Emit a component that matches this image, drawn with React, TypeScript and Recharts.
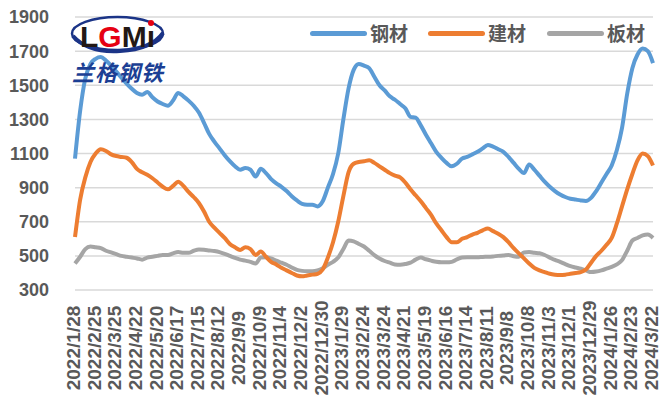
import { LineChart, Line, XAxis, YAxis, CartesianGrid } from 'recharts';

const tickLabels = [
  '2022/1/28', '2022/2/25', '2022/3/25', '2022/4/22', '2022/5/20', '2022/6/17', '2022/7/15',
  '2022/8/12', '2022/9/9', '2022/10/9', '2022/11/4', '2022/12/2', '2022/12/30', '2023/1/29',
  '2023/2/24', '2023/3/24', '2023/4/21', '2023/5/19', '2023/6/16', '2023/7/14', '2023/8/11',
  '2023/9/8', '2023/10/8', '2023/11/3', '2023/12/1', '2023/12/29', '2024/1/26', '2024/2/23',
  '2024/3/22',
];

// 钢材
const steel = [
  1070, 1350, 1540, 1625, 1655, 1665, 1645, 1615, 1580, 1545,
  1510, 1480, 1455, 1445, 1460, 1430, 1405, 1390, 1380, 1410,
  1455, 1435, 1410, 1380, 1340, 1280, 1215, 1170, 1130, 1090,
  1055, 1025, 1005, 1015, 1005, 965, 1010, 985, 950, 925,
  905, 880, 850, 825, 805, 800, 800, 790, 820, 900,
  980, 1100, 1300, 1480, 1590, 1625, 1615, 1600, 1550, 1500,
  1470, 1435, 1415, 1390, 1365, 1315, 1310, 1265, 1210, 1160,
  1110, 1075, 1045, 1025, 1040, 1070, 1080, 1095, 1110, 1130,
  1150, 1140, 1125, 1110, 1080, 1045, 1010, 985, 1035, 1005,
  970, 935, 905, 880, 860, 845, 835, 830, 825, 822,
  840, 880, 930, 980, 1030, 1120, 1250, 1450, 1600, 1680,
  1715, 1700, 1630,
];

// 建材
const rebar = [
  610, 830, 960, 1050, 1100, 1125, 1115, 1095, 1085, 1080,
  1075, 1050, 1010, 990, 975, 955, 930, 905, 890, 910,
  935, 910, 875, 845, 810, 760, 700, 665, 635, 605,
  570, 550, 535, 550, 540, 505, 525, 495, 465, 450,
  430, 415, 400, 385, 380, 385, 390, 395, 420, 490,
  580, 700, 850, 990, 1040, 1050, 1055, 1060, 1045, 1025,
  1005, 985, 970, 960, 930, 890, 855, 820, 780, 740,
  690, 650, 610, 580, 580, 600, 610, 625, 635, 650,
  660, 645, 630, 610, 580, 545, 515, 485, 455, 430,
  415, 405, 395, 390, 388, 390, 395, 400, 405, 420,
  460, 500, 530, 565, 605, 690, 790, 890, 980, 1060,
  1100, 1085, 1030,
];

// 板材
const plate = [
  455, 495, 540, 555, 550, 545, 530, 520, 510, 500,
  495, 490, 485, 478, 490, 495, 500, 505, 505, 515,
  522, 518, 518, 530, 538, 536, 532, 528, 522, 512,
  500, 488, 478, 472, 465, 455, 490, 492, 485, 472,
  460, 448, 432, 418, 412, 410, 410, 415, 428, 448,
  465, 490, 540, 590, 585, 570, 555, 530, 505, 485,
  470, 460, 450, 448, 452, 460, 478, 490, 480, 472,
  465, 462, 462, 465, 480, 490, 492, 492, 492, 494,
  495, 497, 500, 502, 505, 498, 495, 520, 522, 518,
  515, 505, 490, 476, 465, 452, 440, 432, 425, 415,
  405, 408, 415, 425, 435, 450, 475, 530, 590, 605,
  620, 625, 605,
];

const yTicks = [300, 500, 700, 900, 1100, 1300, 1500, 1700, 1900];

const data = steel.map((v, i) => ({ week: i, steel: v, rebar: rebar[i], plate: plate[i] }));

const BAND = 578 / steel.length;

const XTick = ({ x, y, payload }: any) => {
  const label = tickLabels[payload.value / 4];
  const cx = x - 1.5;
  const cy = y + 58;
  return (
    <text
      x={cx}
      y={cy}
      transform={`rotate(-90 ${cx} ${cy})`}
      textAnchor="middle"
      dy="0.34em"
      fill="#595959"
      fontSize={19}
      fontWeight="bold"
      fontFamily="'Liberation Sans', Arial, sans-serif"
    >
      {label}
    </text>
  );
};

const MinorTick = ({ x, y, index }: any) => (
  <g>
    <line x1={x - BAND / 2} x2={x - BAND / 2} y1={y} y2={y + 5} stroke="#d9d9d9" strokeWidth={1} />
    {index === steel.length - 1 && (
      <line x1={x + BAND / 2} x2={x + BAND / 2} y1={y} y2={y + 5} stroke="#d9d9d9" strokeWidth={1} />
    )}
  </g>
);

const legendItems = [
  { name: '钢材', color: '#5B9BD5', left: 310 },
  { name: '建材', color: '#ED7D31', left: 428 },
  { name: '板材', color: '#A5A5A5', left: 547 },
];

const App = () => {
  return (
    <div style={{ position: 'absolute', left: 0, top: 0, width: 661, height: 402, background: '#fff' }}>
      <LineChart width={661} height={402} data={data} margin={{ top: 17, right: 8, left: 0, bottom: 0 }}>
        <CartesianGrid vertical={false} stroke="#d9d9d9" strokeWidth={1.5} />
        <XAxis
          xAxisId="minor"
          dataKey="week"
          height={0}
          interval={0}
          tick={<MinorTick />}
          tickLine={false}
          tickSize={0}
          tickMargin={0}
          axisLine={{ stroke: '#d9d9d9', strokeWidth: 1.5 }}
        />
        <XAxis
          xAxisId="main"
          dataKey="week"
          height={112}
          interval={3}
          tick={<XTick />}
          tickLine={false}
          tickSize={0}
          tickMargin={0}
          axisLine={false}
        />
        <YAxis
          width={75}
          domain={[300, 1900]}
          ticks={yTicks}
          interval={0}
          axisLine={false}
          tickLine={false}
          tickSize={6}
          tickMargin={20}
          tick={{ fill: '#595959', fontSize: 18, fontWeight: 'bold', fontFamily: "'Liberation Sans', Arial, sans-serif" }}
        />
        <Line xAxisId="main" type="monotone" dataKey="plate" stroke="#A5A5A5" strokeWidth={4} dot={false} isAnimationActive={false} />
        <Line xAxisId="main" type="monotone" dataKey="rebar" stroke="#ED7D31" strokeWidth={4} dot={false} isAnimationActive={false} />
        <Line xAxisId="main" type="monotone" dataKey="steel" stroke="#5B9BD5" strokeWidth={4} dot={false} isAnimationActive={false} />
      </LineChart>

      {/* legend */}
      {legendItems.map((it) => (
        <div key={it.name} style={{ position: 'absolute', left: it.left, top: 22, display: 'flex', alignItems: 'center', background: '#fff' }}>
          <div style={{ width: 57, height: 5, borderRadius: 3, background: it.color }} />
          <span style={{ marginLeft: 3, fontSize: 19, fontWeight: 'bold', color: '#595959', fontFamily: "'Noto Sans CJK SC', sans-serif", lineHeight: '22px' }}>
            {it.name}
          </span>
        </div>
      ))}

      {/* logo */}
      <svg style={{ position: 'absolute', left: 0, top: 0 }} width={200} height={100}>
        <ellipse cx={117.5} cy={33.5} rx={45.5} ry={16.5} fill="#fff" stroke="#1b3487" strokeWidth={2.5} />
        <path d="M 73 36 Q 88 53 120 51 Q 152 49 163 33" fill="none" stroke="#1b3487" strokeWidth={4} />
        <text x={80} y={47} fontSize={30} fontWeight="bold" fontFamily="'Liberation Sans', Arial, sans-serif">
          <tspan fill="#231815">L</tspan>
          <tspan fill="#e60012">G</tspan>
          <tspan fill="#231815">M</tspan>
          <tspan fill="#231815">ı</tspan>
        </text>
        <circle cx={151} cy={23} r={3} fill="#e60012" />
        <text x={72} y={81} fontSize={22} fontWeight="bold" fill="#1c3f94" fontFamily="'Noto Sans CJK SC', sans-serif" letterSpacing={1} fontStyle="italic">
          兰格钢铁
        </text>
      </svg>
    </div>
  );
};

export default App;
